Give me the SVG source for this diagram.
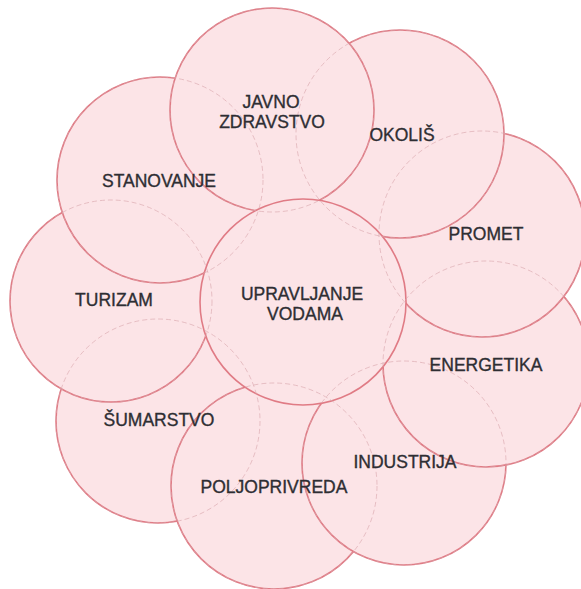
<svg xmlns="http://www.w3.org/2000/svg" width="581" height="589" viewBox="0 0 581 589">
<style>
.c{fill:#fce4e7;stroke:#e07b85;stroke-width:1.6}
.h{fill:none;stroke:#d9a7ad;stroke-width:0.8;stroke-dasharray:5 3;opacity:0.8}
.t{font-family:"Liberation Sans",Arial,sans-serif;font-size:17.5px;fill:#2e2e33;stroke:#2e2e33;stroke-width:0.35;text-anchor:middle}
</style>
<rect width="581" height="589" fill="#ffffff"/>
<g id="circles">
<g id="node-sumarstvo"><circle class="c" cx="158" cy="421" r="102"/></g>
<g id="node-poljoprivreda"><circle class="c" cx="274" cy="486" r="103"/></g>
<g id="node-industrija"><circle class="c" cx="404" cy="463" r="102"/></g>
<g id="node-energetika"><circle class="c" cx="486" cy="364" r="103"/></g>
<g id="node-promet"><circle class="c" cx="482" cy="234" r="103"/></g>
<g id="node-okolis"><circle class="c" cx="400" cy="134" r="104"/></g>
<g id="node-turizam"><circle class="c" cx="111" cy="301" r="101"/></g>
<g id="node-stanovanje"><circle class="c" cx="160" cy="180" r="103"/></g>
<g id="node-javno-zdravstvo"><circle class="c" cx="272" cy="110" r="102"/></g>
<g id="node-upravljanje-vodama"><circle class="c" cx="303" cy="302" r="103"/></g>
</g>
<g id="hidden-edges">
<circle class="h" cx="158" cy="421" r="102"/>
<circle class="h" cx="274" cy="486" r="103"/>
<circle class="h" cx="404" cy="463" r="102"/>
<circle class="h" cx="486" cy="364" r="103"/>
<circle class="h" cx="482" cy="234" r="103"/>
<circle class="h" cx="400" cy="134" r="104"/>
<circle class="h" cx="111" cy="301" r="101"/>
<circle class="h" cx="160" cy="180" r="103"/>
<circle class="h" cx="272" cy="110" r="102"/>
</g>
<g id="labels">
<g id="label-sumarstvo"><text class="t" x="159" y="426">ŠUMARSTVO</text></g>
<g id="label-poljoprivreda"><text class="t" x="274" y="493">POLJOPRIVREDA</text></g>
<g id="label-industrija"><text class="t" x="405" y="468">INDUSTRIJA</text></g>
<g id="label-energetika"><text class="t" x="486" y="371">ENERGETIKA</text></g>
<g id="label-promet"><text class="t" x="486" y="240">PROMET</text></g>
<g id="label-okolis"><text class="t" x="402" y="141">OKOLIŠ</text></g>
<g id="label-turizam"><text class="t" x="114" y="306">TURIZAM</text></g>
<g id="label-stanovanje"><text class="t" x="159" y="187">STANOVANJE</text></g>
<g id="label-javno-zdravstvo"><text class="t" x="271" y="108">JAVNO</text><text class="t" x="272" y="128">ZDRAVSTVO</text></g>
<g id="label-upravljanje-vodama"><text class="t" x="302" y="300">UPRAVLJANJE</text><text class="t" x="305" y="320">VODAMA</text></g>
</g>
</svg>
